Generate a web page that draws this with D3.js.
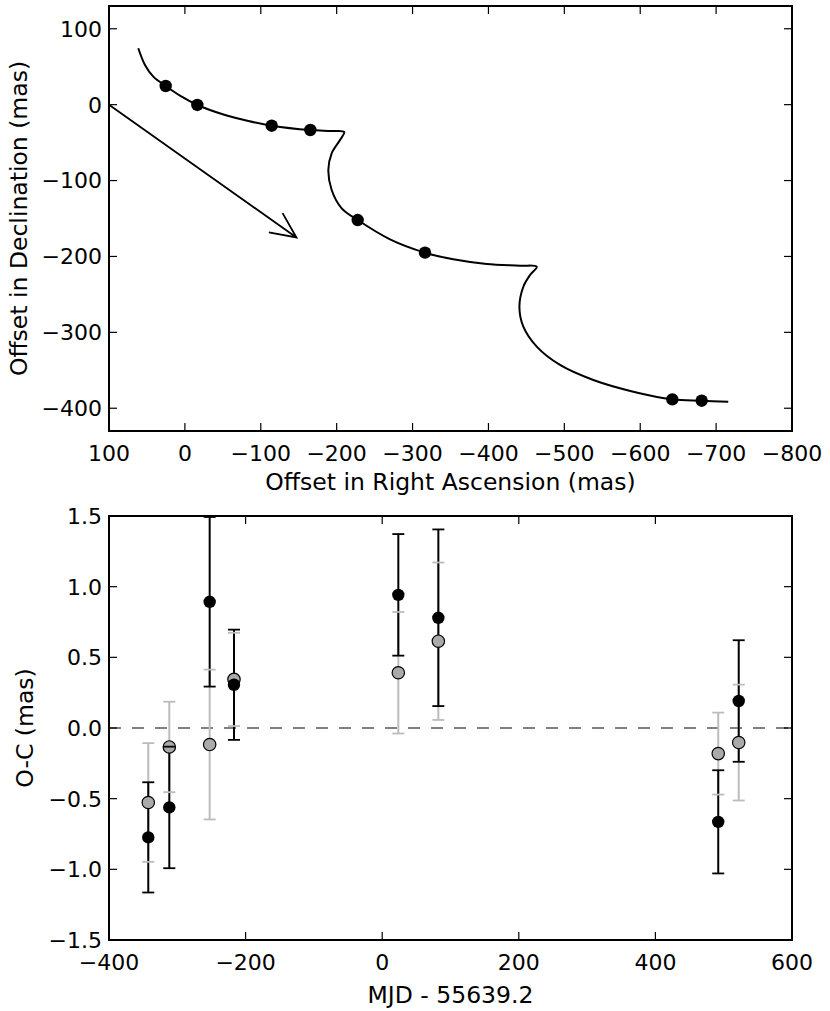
<!DOCTYPE html>
<html>
<head>
<meta charset="utf-8">
<script src="https://cdn.jsdelivr.net/npm/d3@7"></script>
<style>
  html, body { margin: 0; padding: 0; background: #fff; }
  svg { display: block; }
  text { font-family: "DejaVu Sans", sans-serif; fill: #000; }
</style>
</head>
<body>
<svg id="chart" width="830" height="1011"></svg>
<script>
// ---------------- DATA ----------------
// Top panel: model path (RA, Dec offsets in mas)
const pathRA  = [61.4, 52.6, 41.6, 25.3, 4.2, -16.4, -52.9, -83.6, -114.4, -165.3, -193.4, -210,
                 -204.4, -193.4, -189, -193.4, -206.6, -227.7, -270.3, -316.4, -353.7, -397.7, -441.6, -463.6,
                 -454.8, -446, -440.8, -446, -463.6, -494.3, -538.2, -590.9, -642.3, -681, -716];
const pathDec = [74.3, 52.3, 36.9, 24.6, 10.5, -0.4, -13.6, -21.5, -27.7, -33.4, -34.7, -36,
                 -46.6, -64.1, -86.1, -112.5, -136.6, -152, -177.4, -195, -203.8, -210, -212.2, -213.5,
                 -224.5, -239.9, -266.2, -292.6, -318.9, -343, -362.8, -378.2, -388.3, -390.1, -391.4];
// Observed positions
const obsRA  = [25.3, -16.4, -114.4, -165.3, -227.7, -316.4, -642.3, -681];
const obsDec = [24.6, -0.4, -27.7, -33.4, -152, -195, -388.3, -390.1];
// Proper-motion arrow (start, end) in mas
const arrowFrom = [100, 0];
const arrowTo   = [-147, -175];
const topXTicks = [100, 0, -100, -200, -300, -400, -500, -600, -700, -800];
const topYTicks = [100, 0, -100, -200, -300, -400];

// Bottom panel: residuals
const mjd       = [-342.5, -311.7, -252.6, -217, 23.6, 82.2, 492, 522];
const ocBlack   = [-0.774, -0.562, 0.893, 0.306, 0.942, 0.780, -0.664, 0.191];
const errBlack  = [0.39, 0.43, 0.60, 0.39, 0.43, 0.625, 0.365, 0.43];
const ocGray    = [-0.527, -0.134, -0.117, 0.344, 0.391, 0.614, -0.181, -0.103];
const errGray   = [0.42, 0.32, 0.53, 0.33, 0.43, 0.557, 0.29, 0.41];
const botXTicks = [-400, -200, 0, 200, 400, 600];
const botYTicks = [-1.5, -1.0, -0.5, 0.0, 0.5, 1.0, 1.5];

// ---------------- DRAW ----------------
const svg = d3.select("#chart");
svg.append("rect").attr("width", 830).attr("height", 1011).attr("fill", "#fff");
const FS = 22;     // tick labels
const FT = 23.5;   // axis titles
const TICK = 8;

function frame(g, x, y, xTicks, yTicks, xFmt, yFmt) {
  const [x0, x1] = x.range();
  const [y1, y0] = y.range(); // y1 bottom, y0 top
  const tk = g.append("g").attr("stroke", "#000").attr("stroke-width", 1.2);
  xTicks.forEach(t => {
    const px = x(t);
    tk.append("line").attr("x1", px).attr("x2", px).attr("y1", y1).attr("y2", y1 - TICK);
    tk.append("line").attr("x1", px).attr("x2", px).attr("y1", y0).attr("y2", y0 + TICK);
    g.append("text").attr("x", px).attr("y", y1 + 29.5).attr("text-anchor", "middle")
      .attr("font-size", FS).text(xFmt(t));
  });
  yTicks.forEach(t => {
    const py = y(t);
    tk.append("line").attr("x1", x0).attr("x2", x0 + TICK).attr("y1", py).attr("y2", py);
    tk.append("line").attr("x1", x1).attr("x2", x1 - TICK).attr("y1", py).attr("y2", py);
    g.append("text").attr("x", x0 - 7).attr("y", py).attr("dy", "0.36em").attr("text-anchor", "end")
      .attr("font-size", FS).text(yFmt(t));
  });
}
function border(g, x, y) {
  const [x0, x1] = x.range();
  const [y1, y0] = y.range();
  g.append("rect").attr("x", x0).attr("y", y0).attr("width", x1 - x0).attr("height", y1 - y0)
    .attr("fill", "none").attr("stroke", "#000").attr("stroke-width", 2);
}

// ---- Top panel ----
const xT = d3.scaleLinear().domain([100, -800]).range([109, 792]);
const yT = d3.scaleLinear().domain([-430, 130]).range([431, 6]);
const gT = svg.append("g");
svg.append("clipPath").attr("id", "clipT").append("rect")
  .attr("x", 109).attr("y", 6).attr("width", 683).attr("height", 425);

const pathPts = pathRA.map((r, i) => [r, pathDec[i]]);
const line = d3.line().x(d => xT(d[0])).y(d => yT(d[1])).curve(d3.curveCatmullRom.alpha(0.5));
gT.append("path").attr("d", line(pathPts)).attr("fill", "none").attr("stroke", "#000")
  .attr("stroke-width", 2).attr("clip-path", "url(#clipT)");

// arrow
{
  const ax0 = xT(arrowFrom[0]), ay0 = yT(arrowFrom[1]);
  const ax1 = xT(arrowTo[0]), ay1 = yT(arrowTo[1]);
  const ang = Math.atan2(ay0 - ay1, ax0 - ax1);
  const hl = 28, ha = 25 * Math.PI / 180;
  const h1 = [ax1 + hl * Math.cos(ang + ha), ay1 + hl * Math.sin(ang + ha)];
  const h2 = [ax1 + hl * Math.cos(ang - ha), ay1 + hl * Math.sin(ang - ha)];
  gT.append("path")
    .attr("d", `M${ax0},${ay0}L${ax1},${ay1}M${h1[0]},${h1[1]}L${ax1},${ay1}L${h2[0]},${h2[1]}`)
    .attr("fill", "none").attr("stroke", "#000").attr("stroke-width", 1.8);
}

gT.selectAll("circle.obs").data(obsRA.map((r, i) => [r, obsDec[i]])).join("circle")
  .attr("class", "obs").attr("cx", d => xT(d[0])).attr("cy", d => yT(d[1])).attr("r", 6.2)
  .attr("fill", "#000");

frame(gT, xT, yT, topXTicks, topYTicks, d3.format("d"), d3.format("d"));
border(gT, xT, yT);
gT.append("text").attr("x", 450.5).attr("y", 489.5).attr("text-anchor", "middle").attr("font-size", FT)
  .text("Offset in Right Ascension (mas)");
gT.append("text").attr("transform", "translate(27,218.5) rotate(-90)").attr("text-anchor", "middle")
  .attr("font-size", FT).text("Offset in Declination (mas)");

// ---- Bottom panel ----
const xB = d3.scaleLinear().domain([-400, 600]).range([109, 792]);
const yB = d3.scaleLinear().domain([-1.5, 1.5]).range([940, 516]);
const gB = svg.append("g");
svg.append("clipPath").attr("id", "clipB").append("rect")
  .attr("x", 109).attr("y", 516).attr("width", 683).attr("height", 424);

gB.append("line").attr("x1", xB(-400)).attr("x2", xB(600)).attr("y1", yB(0)).attr("y2", yB(0))
  .attr("stroke", "#808080").attr("stroke-width", 2.2).attr("stroke-dasharray", "12,11");

const grayCol = "#bcbcbc";
const gBars = gB.append("g").attr("clip-path", "url(#clipB)");
// bars: gray first, then black
gBars.selectAll("line.gb").data(mjd).join("line").attr("class", "gb")
  .attr("x1", d => xB(d)).attr("x2", d => xB(d))
  .attr("y1", (d, i) => yB(ocGray[i] - errGray[i])).attr("y2", (d, i) => yB(ocGray[i] + errGray[i]))
  .attr("stroke", grayCol).attr("stroke-width", 2);
gBars.selectAll("line.bb").data(mjd).join("line").attr("class", "bb")
  .attr("x1", d => xB(d)).attr("x2", d => xB(d))
  .attr("y1", (d, i) => yB(ocBlack[i] - errBlack[i])).attr("y2", (d, i) => yB(ocBlack[i] + errBlack[i]))
  .attr("stroke", "#000").attr("stroke-width", 2);

function caps(cls, vals, errs, col) {
  const data = [];
  mjd.forEach((m, i) => { data.push([m, vals[i] - errs[i]]); data.push([m, vals[i] + errs[i]]); });
  gB.append("g").attr("clip-path", "url(#clipB)")
    .selectAll("line." + cls).data(data).join("line").attr("class", cls)
    .attr("x1", d => xB(d[0]) - 6).attr("x2", d => xB(d[0]) + 6)
    .attr("y1", d => yB(d[1])).attr("y2", d => yB(d[1]))
    .attr("stroke", col).attr("stroke-width", 1.8);
}
gB.selectAll("circle.gm").data(mjd).join("circle").attr("class", "gm")
  .attr("cx", d => xB(d)).attr("cy", (d, i) => yB(ocGray[i])).attr("r", 6.2)
  .attr("fill", "#aaaaaa").attr("stroke", "#000").attr("stroke-width", 1.2);
caps("gc", ocGray, errGray, grayCol);
gB.selectAll("circle.bm").data(mjd).join("circle").attr("class", "bm")
  .attr("cx", d => xB(d)).attr("cy", (d, i) => yB(ocBlack[i])).attr("r", 6.2)
  .attr("fill", "#000");
caps("bc", ocBlack, errBlack, "#000");

frame(gB, xB, yB, botXTicks, botYTicks, d3.format("d"), d3.format(".1f"));
border(gB, xB, yB);
gB.append("text").attr("x", 450.5).attr("y", 1003).attr("text-anchor", "middle").attr("font-size", FT)
  .text("MJD - 55639.2");
gB.append("text").attr("transform", "translate(33,728) rotate(-90)").attr("text-anchor", "middle")
  .attr("font-size", FT).text("O-C (mas)");
</script>
</body>
</html>
